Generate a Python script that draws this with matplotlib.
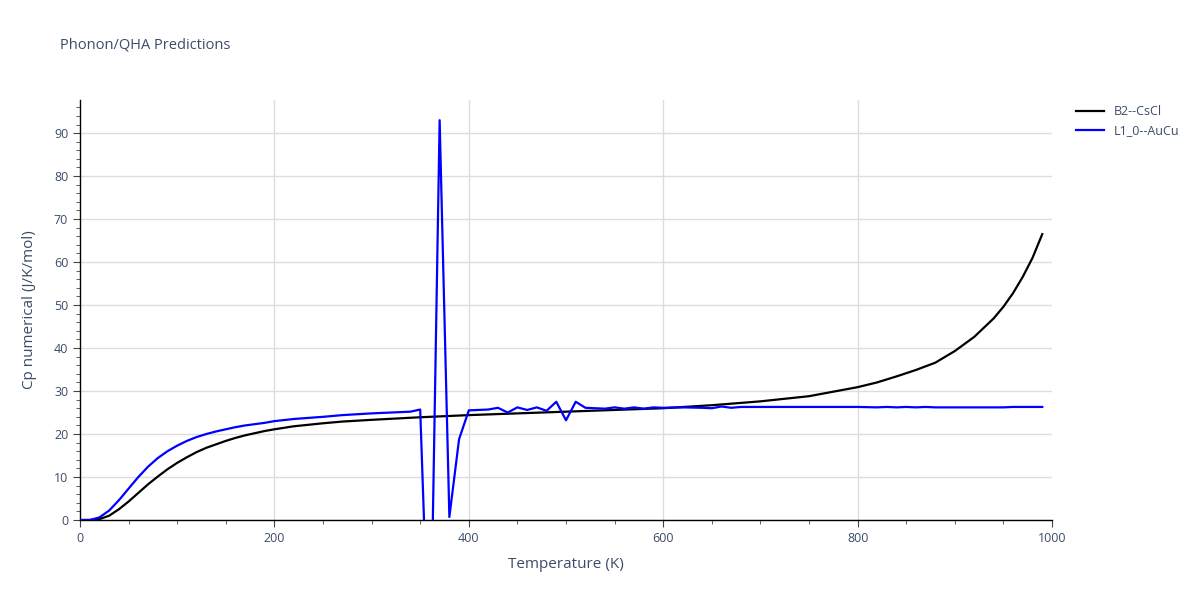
import matplotlib
matplotlib.use("Agg")
import matplotlib.pyplot as plt
from matplotlib.ticker import MultipleLocator

plt.rcParams['font.family'] = ['Open Sans', 'DejaVu Sans']

# B2--CsCl
b2_T = [0, 10, 20, 30, 40, 50, 60, 70, 80, 90, 100, 110, 120, 130, 140, 150, 160, 170, 180,
        190, 200, 220, 250, 270, 300, 350, 400, 450, 500, 550, 600, 650, 700, 750, 800, 820,
        840, 860, 880, 900, 920, 940, 950, 960, 970, 980, 990]
b2_cp = [0, 0.0, 0.2, 1.0, 2.5, 4.3, 6.3, 8.3, 10.1, 11.8, 13.3, 14.6, 15.8, 16.8, 17.6, 18.4,
         19.1, 19.7, 20.2, 20.7, 21.1, 21.8, 22.5, 22.9, 23.3, 23.9, 24.4, 24.8, 25.2, 25.6, 26.0,
         26.7, 27.6, 28.8, 30.9, 32.0, 33.4, 34.9, 36.6, 39.3, 42.6, 46.9, 49.6, 52.8, 56.6,
         61.0, 66.5]

# L1_0--AuCu
l10_T = [0, 10, 20, 30, 40, 50, 60, 70, 80, 90, 100, 110, 120, 130, 140, 150, 160, 170, 180,
         190, 200, 220, 250, 270, 300, 340, 350, 360, 370, 380, 390, 400, 410, 420, 430, 440,
         450, 460, 470, 480, 490, 500, 510, 520, 530, 540, 550, 560, 570, 580, 590, 600, 620,
         640, 650, 660, 670, 680, 700, 750, 800, 820, 830, 840, 850, 860, 870, 880, 900, 950,
         960, 990]
l10_cp = [0, 0.0, 0.6, 2.2, 4.6, 7.3, 10.0, 12.4, 14.4, 16.0, 17.3, 18.4, 19.3, 20.0, 20.6,
          21.1, 21.6, 22.0, 22.3, 22.6, 23.0, 23.5, 24.0, 24.4, 24.8, 25.2, 25.7, -40.0, 93.0,
          0.7, 18.8, 25.5, 25.6, 25.7, 26.1, 25.0, 26.2, 25.6, 26.2, 25.4, 27.5, 23.2, 27.5,
          26.1, 26.0, 25.9, 26.2, 25.9, 26.2, 25.9, 26.2, 26.1, 26.2, 26.1, 26.0, 26.4, 26.1,
          26.3, 26.3, 26.3, 26.3, 26.2, 26.3, 26.2, 26.3, 26.2, 26.3, 26.2, 26.2, 26.2, 26.3,
          26.3]

x_grid = [200, 400, 600, 800]

text_c = '#3b4c69'

fig = plt.figure(figsize=(12, 6), dpi=100)
ax = fig.add_axes([80/1200, 80/600, 972/1200, 420/600])
ax.plot(b2_T, b2_cp, color='black', lw=1.6, label='B2--CsCl', zorder=3)
ax.plot(l10_T, l10_cp, color='blue', lw=1.6, label='L1_0--AuCu', zorder=3)

ax.set_xlim(0, 1000)
ax.set_ylim(0, 97.7)
ax.xaxis.set_major_locator(MultipleLocator(200))
ax.xaxis.set_minor_locator(MultipleLocator(50))
ax.yaxis.set_major_locator(MultipleLocator(10))
ax.yaxis.set_minor_locator(MultipleLocator(2))
ax.grid(True, axis='y', which='major', color='#dddddd', lw=1, zorder=0)
for xv in x_grid:
    ax.axvline(xv, color='#dddddd', lw=1, zorder=0)
ax.set_axisbelow(True)
for s in ['top', 'right']:
    ax.spines[s].set_visible(False)
for s in ['left', 'bottom']:
    ax.spines[s].set_color('black')
    ax.spines[s].set_linewidth(1)
ax.tick_params(which='major', direction='out', length=5, color='#444444',
               labelsize=9, labelcolor=text_c)
ax.tick_params(which='minor', direction='out', length=3, color='#444444')
ax.set_xlabel('Temperature (K)', fontsize=11, color=text_c, labelpad=9)
ax.set_ylabel('Cp numerical (J/K/mol)', fontsize=11, color=text_c, labelpad=12)

fig.text(60/1200, 1 - 45/600, 'Phonon/QHA Predictions', fontsize=10.5, color=text_c,
         va='center', ha='left')

leg = ax.legend(loc='upper left', bbox_to_anchor=(1.02, 1.0), frameon=False,
                fontsize=9, handlelength=2.2, labelcolor=text_c, borderaxespad=0)

fig.savefig('out.png', dpi=100)
